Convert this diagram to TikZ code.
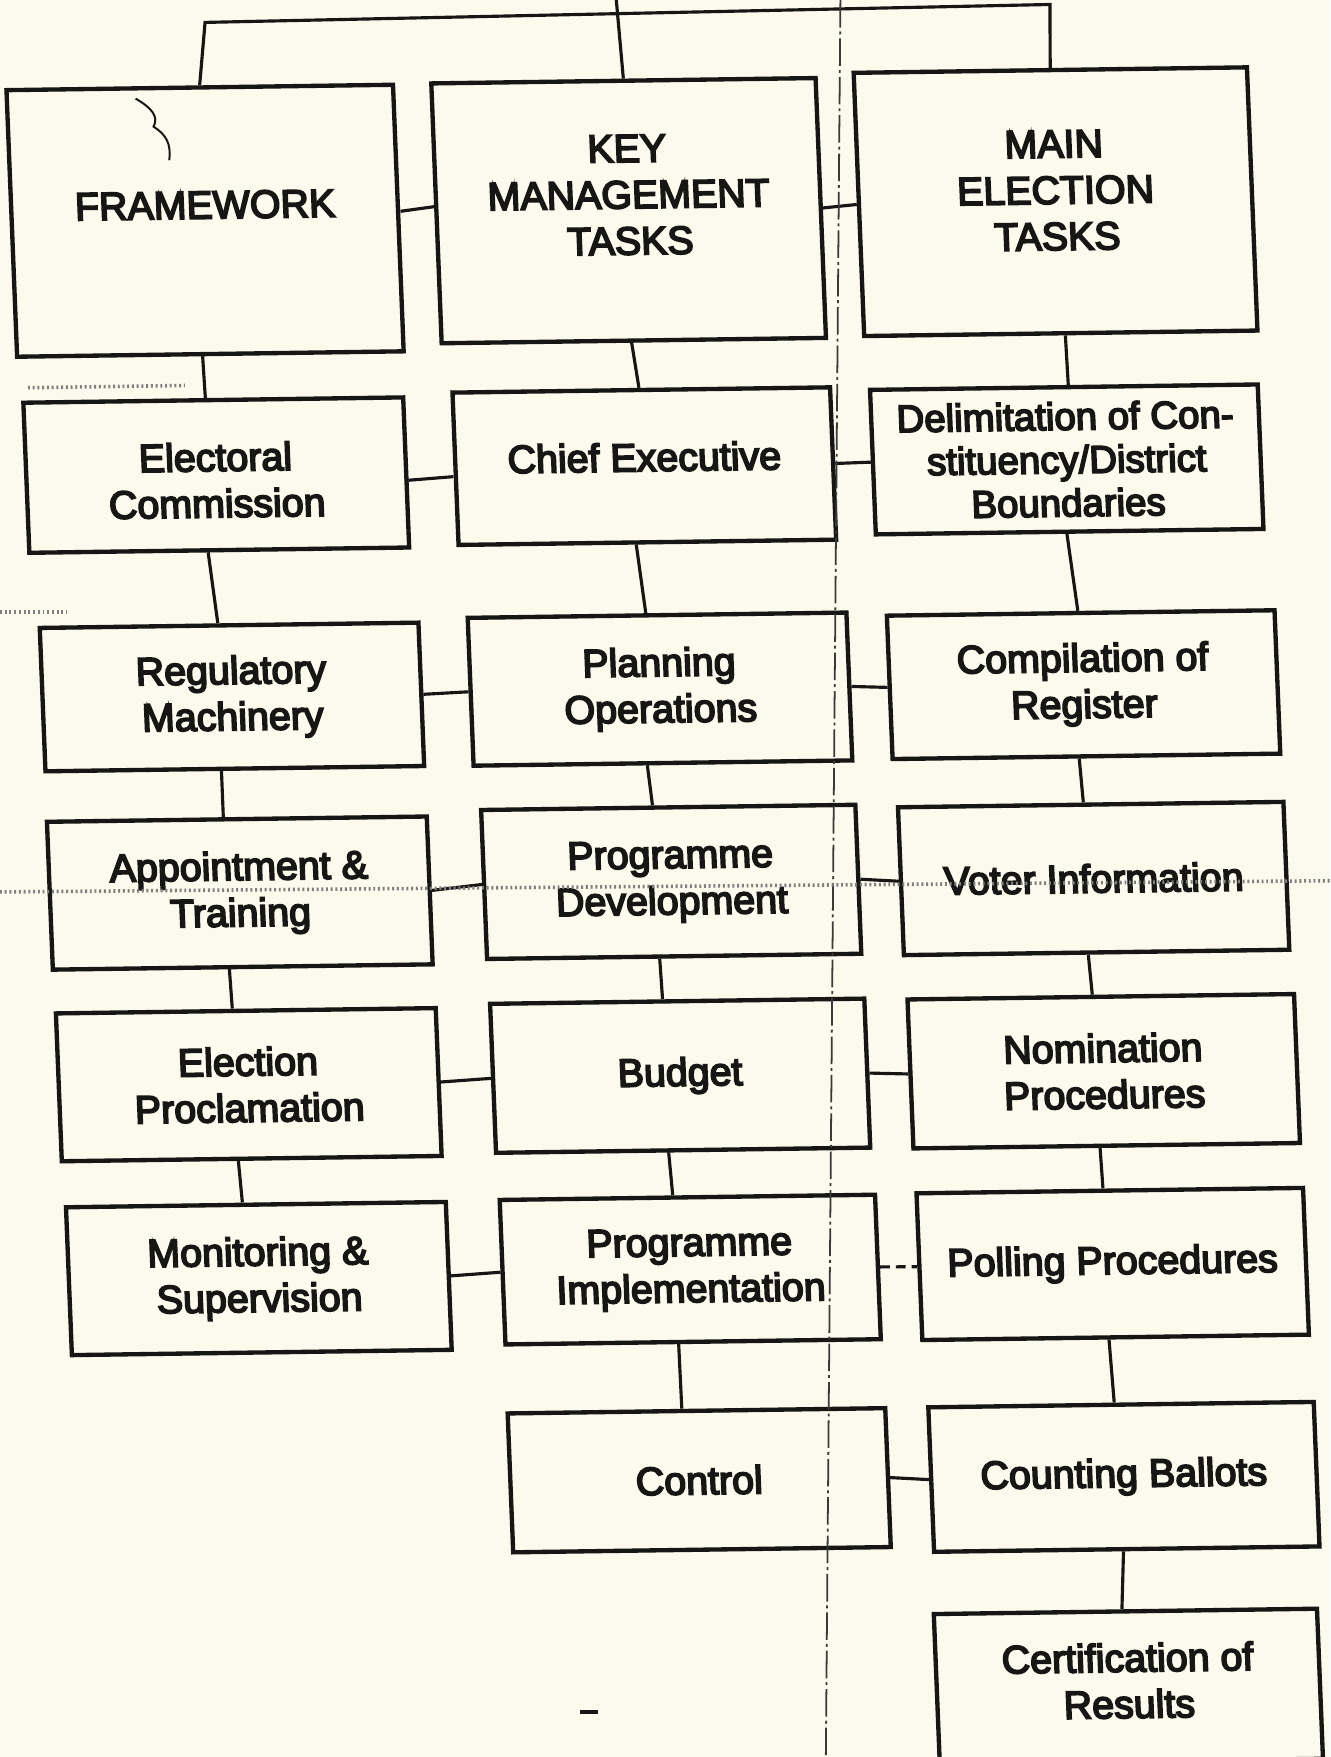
\documentclass[tikz,border=0pt]{standalone}
\usepackage{fontspec}
\newfontfamily\boxfont{Liberation Sans}[FakeBold=4.5]
\definecolor{paper}{RGB}{251,250,236}
\definecolor{ink}{RGB}{22,22,20}
\begin{document}
\begin{tikzpicture}[x=0.02cm,y=-0.02cm,
  tilt/.style={rotate=0.8, xslant=-0.026},
  tx/.style={align=center, inner sep=0pt, font=\boxfont\fontsize{20}{23.5}\selectfont, text=ink, tilt},
  box/.style={tx, draw=ink, line width=2.2pt, rectangle},
  wh/.style 2 args={minimum width=#1*0.02cm, minimum height=#2*0.02cm},
  link/.style={draw=ink, line width=1.6pt},
  brokenlink/.style={link, dash pattern=on 5pt off 3pt},
  fold/.style={draw=ink!85, line width=0.9pt, dash pattern=on 14pt off 2pt on 1.5pt off 2pt},
  grain/.style={draw=ink!55, line width=1.8pt, dash pattern=on 1pt off 1.4pt},
  speck/.style={draw=ink, line width=1pt}]

% paper
\fill[paper] (0,0) rectangle (1187,1568);
\useasboundingbox (0,0) rectangle (1187,1568);

% top level (titles sit above the box centre)
\node[box, wh={345}{238}] (fw) at (183,197) {};
\node[tx] (fwt) at ([yshift=0.28cm]fw.center) {FRAMEWORK};
\node[box, wh={343}{232}] (km) at (561,188) {};
\node[tx] (kmt) at ([yshift=0.28cm]km.center) {KEY\\MANAGEMENT\\TASKS};
\node[box, wh={351}{235}] (me) at (942,180) {};
\node[tx] (met) at ([yshift=0.2cm]me.center) {MAIN\\ELECTION\\TASKS};

% framework column
\node[box, wh={339}{134}] (ec) at (193,424) {};
\node[tx] (ect) at ([yshift=-0.09cm]ec.center) {Electoral\\Commission};
\node[box, wh={338}{128}] (rm) at (207,622) {Regulatory\\Machinery};
\node[box, wh={339}{132}] (at) at (214,797) {Appointment \&\\Training};
\node[box, wh={339}{132}] (ep) at (222,968) {Election\\Proclamation};
\node[box, wh={339}{132}] (ms) at (231,1141) {Monitoring \&\\Supervision};

% management column
\node[box, wh={337}{136}] (ce) at (575,416) {};
\node[tx] (cet) at ([yshift=0.16cm]ce.center) {Chief Executive};
\node[box, wh={338}{132}] (po) at (589,615) {Planning\\Operations};
\node[box, wh={334}{133}] (pd) at (599,787) {Programme\\Development};
\node[box, wh={334}{133}] (bu) at (607,960) {Budget};
\node[box, wh={335}{129}] (pi) at (616,1133) {Programme\\Implementation};
\node[box, wh={337}{124}] (co) at (624,1321) {Control};

% election column
\node[box, wh={346}{129}, font=\boxfont\fontsize{19.5}{22}\selectfont] (de) at (952,410)
  {Delimitation of Con-\\stituency/District\\Boundaries};
\node[box, wh={346}{128}] (cr) at (967,611) {Compilation of\\Register};
\node[box, wh={344}{132}] (vi) at (976,784) {Voter Information};
\node[box, wh={345}{133}] (np) at (985,956) {Nomination\\Procedures};
\node[box, wh={345}{131}] (pp) at (993,1128) {Polling Procedures};
\node[box, wh={344}{129}] (cb) at (1003,1318) {Counting Ballots};
\node[box, wh={342}{134}] (cf) at (1007,1505) {};
\node[tx] (cft) at ([yshift=0.1cm]cf.center) {Certification of\\Results};

% top bracket
\coordinate (hl) at (183,20);
\coordinate (hr) at (937,4);
\coordinate (kt) at (550,0);
\draw[link] (fw.north) -- (hl) -- (hr) -- (me.north);
\draw[link] (kt) -- (km.north);

% vertical links
\draw[link] ([xshift=-0.14cm]fw.south) -- ([xshift=-0.14cm]ec.north);
\draw[link] ([xshift=-0.20cm]ec.south) -- ([xshift=-0.20cm]rm.north);
\draw[link] ([xshift=-0.24cm]rm.south) -- ([xshift=-0.24cm]at.north);
\draw[link] ([xshift=-0.24cm]at.south) -- ([xshift=-0.24cm]ep.north);
\draw[link] ([xshift=-0.24cm]ep.south) -- ([xshift=-0.24cm]ms.north);

\draw[link] ([xshift=-0.04cm]km.south) -- ([xshift=-0.04cm]ce.north);
\draw[link] ([xshift=-0.20cm]ce.south) -- ([xshift=-0.20cm]po.north);
\draw[link] ([xshift=-0.28cm]po.south) -- ([xshift=-0.28cm]pd.north);
\draw[link] ([xshift=-0.26cm]pd.south) -- ([xshift=-0.26cm]bu.north);
\draw[link] ([xshift=-0.26cm]bu.south) -- ([xshift=-0.26cm]pi.north);
\draw[link] ([xshift=-0.26cm]pi.south) -- ([xshift=-0.26cm]co.north);

\draw[link] ([xshift=0.08cm]me.south) -- ([xshift=0.08cm]de.north);
\draw[link] ([xshift=-0.05cm]de.south) -- ([xshift=-0.05cm]cr.north);
\draw[link] ([xshift=-0.13cm]cr.south) -- ([xshift=-0.13cm]vi.north);
\draw[link] ([xshift=-0.15cm]vi.south) -- ([xshift=-0.15cm]np.north);
\draw[link] ([xshift=-0.12cm]np.south) -- ([xshift=-0.12cm]pp.north);
\draw[link] ([xshift=-0.12cm]pp.south) -- ([xshift=-0.12cm]cb.north);
\draw[link] ([xshift=-0.06cm]cb.south) -- ([xshift=-0.06cm]cf.north);

% horizontal links
\draw[link] ([yshift=0.12cm]fw.east) -- ([yshift=0.12cm]km.west);
\draw[link] (km.east) -- (me.west);
\draw[link] ([yshift=-0.14cm]ec.east) -- ([yshift=-0.14cm]ce.west);
\draw[link] (ce.east) -- (de.west);
\draw[link] (rm.east) -- (po.west);
\draw[link] (po.east) -- (cr.west);
\draw[link] (at.east) -- (pd.west);
\draw[link] (pd.east) -- (vi.west);
\draw[link] (ep.east) -- (bu.west);
\draw[link] (bu.east) -- (np.west);
\draw[link] (ms.east) -- (pi.west);
\draw[brokenlink] (pi.east) -- (pp.west);
\draw[link] (co.east) -- (cb.west);

% fold line and copier marks
\coordinate (foldtop) at (750,0);
\coordinate (foldbot) at (737,1568);
\draw[fold] (foldtop) -- (foldbot);
\coordinate (bandl) at (0,796);
\coordinate (bandr) at (1187,786);
\draw[grain] (bandl) -- (bandr);
\coordinate (dl1) at (25,346);
\coordinate (dr1) at (165,344);
\draw[grain] (dl1) -- (dr1);
\coordinate (dl2) at (0,546);
\coordinate (dr2) at (60,546);
\draw[grain] (dl2) -- (dr2);
\coordinate (sq) at (121,88);
\draw[speck] (sq) .. controls (135,96) and (142,104) .. (137,113)
  .. controls (148,120) and (153,128) .. (151,143);
\coordinate (dashl) at (518,1528);
\coordinate (dashr) at (534,1528);
\draw[draw=ink, line width=2.2pt] (dashl) -- (dashr);
\end{tikzpicture}
\end{document}
